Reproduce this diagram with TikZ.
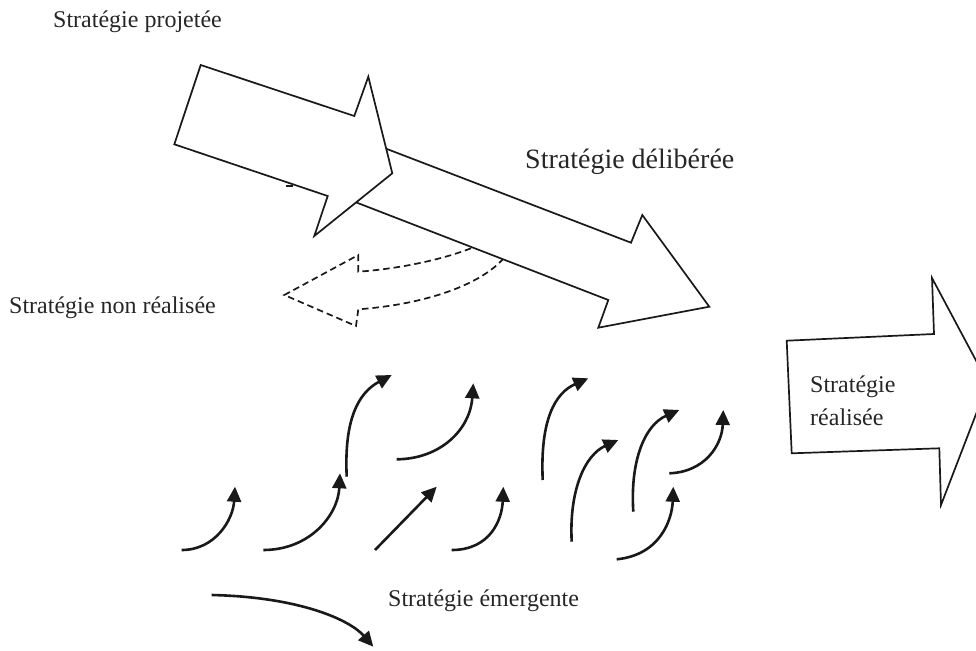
\documentclass[tikz,border=0pt]{standalone}
\usepackage{fontspec}
\setmainfont{Liberation Serif}
\usetikzlibrary{arrows.meta}
\begin{document}
\begin{tikzpicture}[x=1pt,y=-1pt,
  bigarrow/.style={draw=black!90,line width=1.7pt,fill=white,line join=miter},
  ghost/.style={draw=black!90,line width=1.7pt,dash pattern=on 6.5pt off 4pt},
  emerg/.style={draw=black!90,line width=2.6pt,-{Triangle[length=15pt,width=14pt]}},
  lbl/.style={font=\fontsize{24}{33}\selectfont,inner sep=0pt,anchor=base west,text=black!85}]
\useasboundingbox (0,0) rectangle (976,650);
\clip (0,0) rectangle (976,650);
% dashed (unrealised) arrow
\draw[ghost] (510,250) .. controls (490,282) and (430,304) .. (358.3,309.3)
  -- (356,326) -- (284.3,295) -- (358.3,255) -- (358.3,271.7)
  .. controls (410,268) and (460,255) .. (485,242);
% deliberate arrow
\draw[bigarrow] (320,123.3) -- (631,242.7) -- (642.3,215) -- (709.3,306.7)
  -- (598.3,327.7) -- (608.3,300) -- (298.3,180) -- cycle;
% projected arrow
\draw[bigarrow] (200.7,65) -- (354.3,116) -- (368.3,76.7) -- (392.3,173.3)
  -- (314.3,236) -- (327.7,196) -- (174.3,144.3) -- cycle;
\draw[line width=1.6pt,black!90] (286,186) -- (293,186);
% realised arrow
\draw[bigarrow] (786.7,340.7) -- (934,334) -- (932,278) -- (988,383)
  -- (941,505) -- (939.3,448.3) -- (791.7,453.3) -- cycle;
% labels
\node[lbl] (proj) at (53,28) {Stratégie projetée};
\node[lbl,font=\fontsize{28}{34}\selectfont] (delib) at (525,168) {Stratégie délibérée};
\node[lbl] (nonreal) at (9,313) {Stratégie non réalisée};
\node[lbl] (emerg) at (388,606) {Stratégie émergente};
\node[lbl] (real1) at (810,392) {Stratégie};
\node[lbl] (real2) at (810,425) {réalisée};
% emergent arrows
\draw[emerg] (181.7,550) .. controls (215,550) and (233,520) .. (235,486.7);
\draw[emerg] (263.3,550) .. controls (310,550) and (338,515) .. (340,473.3);
\draw[emerg] (346.7,476.7) .. controls (344,420) and (358,393) .. (391.7,375);
\draw[emerg] (375,550) -- (436.7,486.7);
\draw[emerg] (396.7,459.3) .. controls (440,459) and (470,430) .. (473.3,383.3);
\draw[emerg] (451.7,550) .. controls (490,550) and (502,520) .. (503.3,486.7);
\draw[emerg] (542.7,480) .. controls (540,420) and (555,393) .. (588.3,378.3);
\draw[emerg] (571.7,541.7) .. controls (569,490) and (585,455) .. (618.3,440);
\draw[emerg] (633.3,511.7) .. controls (630,460) and (645,425) .. (679.3,410);
\draw[emerg] (669.3,473.3) .. controls (705,472) and (722,445) .. (723.3,410);
\draw[emerg] (616.7,559.3) .. controls (660,555) and (672,520) .. (673.3,486.7);
\draw[emerg] (211.7,595) .. controls (300,597) and (350,620) .. (373.3,646.7);
\end{tikzpicture}
\end{document}
